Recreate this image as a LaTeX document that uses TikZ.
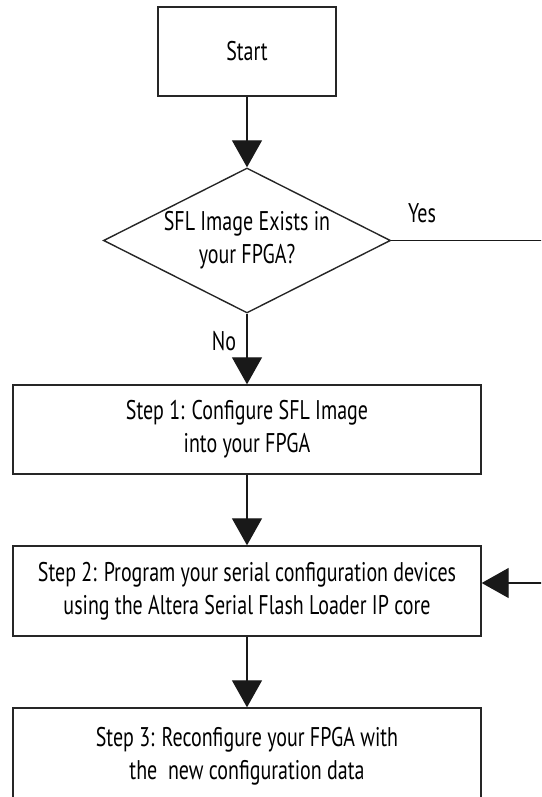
\documentclass[tikz,border=0pt]{standalone}
\usepackage{fontspec}
\setmainfont{PT Sans}[FakeStretch=0.74]
\usetikzlibrary{arrows.meta,shapes.geometric}
\begin{document}
\begin{tikzpicture}[x=1pt,y=-1pt,
  every node/.style={font=\fontsize{27}{33}\selectfont, text=black},
  box/.style={draw=black!85, line width=1.4pt, rectangle, inner sep=0pt, align=center},
  decision/.style={draw=black!85, line width=1.4pt, diamond, aspect=2, inner sep=0pt, align=center,
    minimum width=287pt, minimum height=145pt},
  flow/.style={draw=black!90, line width=1.3pt, -{Triangle[width=30pt,length=27pt]}},
  lbl/.style={inner sep=0pt}]
\clip (0,0) rectangle (541,797);
% process boxes
\node[box, minimum width=178pt, minimum height=89pt] (start) at (247,51.5) {Start};
\node[decision] (dec) at (247,240.5) {SFL Image Exists in\\your FPGA?};
\node[box, minimum width=468pt, minimum height=89pt] (s1) at (247,429.5)
  {Step 1: Configure SFL Image\\into your FPGA};
\node[box, minimum width=468pt, minimum height=90pt] (s2) at (247,591)
  {Step 2: Program your serial configuration devices\\using the Altera Serial Flash Loader IP core};
\node[box, minimum width=468pt, minimum height=96pt] (s3) at (247,756)
  {Step 3: Reconfigure your FPGA with\\the\ \ new configuration data};
% connectors
\draw[flow] (start) -- (dec);
\draw[flow] (dec.south) -- (s1.north);
\draw[flow] (s1) -- (s2);
\draw[flow] (s2) -- (s3);
\coordinate (r1) at (570,240.5);
\coordinate (r2) at (570,583);
\draw[flow] (dec.east) -- (r1) -- (r2) -- (r2 -| s2.east);
% branch labels
\node[lbl] (yes) at (422,213) {Yes};
\node[lbl] (no) at (224,341) {No};
\end{tikzpicture}
\end{document}
